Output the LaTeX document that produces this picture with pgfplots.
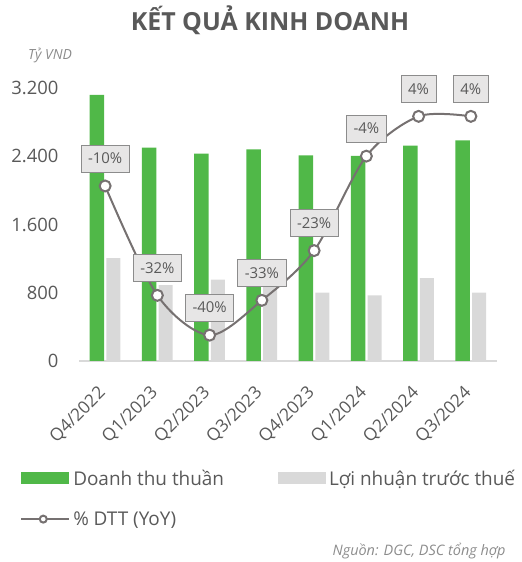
\documentclass[border=0pt]{standalone}
\usepackage{fontspec}
\setmainfont{Open Sans}
\usepackage{pgfplots}
\usepackage{pgfplotstable}
\pgfplotsset{compat=1.18}

\definecolor{dtt}{HTML}{50B848}
\definecolor{lnt}{HTML}{D9D9D9}
\definecolor{txt}{HTML}{595959}
\definecolor{yoyline}{HTML}{767171}
\definecolor{boxf}{HTML}{E7E6E6}
\definecolor{boxd}{HTML}{8C8C8C}

% quarter index, net revenue, profit before tax (bn VND), revenue growth YoY (%)
\pgfplotstableread{
q dt lnt yoy
0 3120 1205 -10
1 2500 890 -32
2 2430 955 -40
3 2480 870 -33
4 2410 800 -23
5 2405 770 -4
6 2525 970 4
7 2585 800 4
}\kqkd

\pgfplotsset{
  barleg/.style={legend image code/.code={\fill[##1] (0bp,-6bp) rectangle (48bp,6bp);}},
  yoystyle/.style={yoyline, line width=2bp, mark=*, mark size=5.5bp,
    mark options={fill=white, draw=yoyline, line width=2bp}},
  yoyleg/.style={legend image code/.code={\draw[mark repeat=2, mark phase=2, ##1, mark size=3.5bp]
    plot coordinates {(0bp,0bp) (22bp,0bp) (48bp,0bp)};}},
}

\begin{document}
\begin{tikzpicture}
\path[use as bounding box] (0,0) rectangle (522bp,562bp);
\node[font=\fontsize{25}{29}\selectfont\bfseries, text=txt] at (270bp,542bp) {KẾT QUẢ KINH DOANH};
\node[font=\fontsize{14}{16}\selectfont\itshape, text=boxd] at (50bp,507bp) {Tỷ VND};
\node[font=\fontsize{14.5}{17}\selectfont\itshape, text=boxd, anchor=east] at (509bp,11bp) {Nguồn: DGC, DSC tổng hợp};

\begin{axis}[
  at={(79bp,201bp)}, anchor=south west,
  scale only axis, width=418bp, height=273bp,
  xmin=-0.5, xmax=7.5, ymin=0, ymax=3200,
  xtick={0,...,7},
  xticklabels={Q4/2022,Q1/2023,Q2/2023,Q3/2023,Q4/2023,Q1/2024,Q2/2024,Q3/2024},
  ytick={0,800,1600,2400,3200},
  axis x line*=bottom, axis y line*=left,
  x axis line style={draw=lnt, line width=1.5bp, -},
  y axis line style={draw=none},
  tick style={draw=none},
  font=\fontsize{18.5}{21}\selectfont, tick label style={text=txt},
  /pgf/number format/assume math mode=true,
  /pgf/number format/.cd, fixed, 1000 sep={.}, /pgfplots/.cd,
  yticklabel style={xshift=-17bp},
  xticklabel style={rotate=45, anchor=east, font=\fontsize{17.5}{20}\selectfont},
  xticklabel shift=27bp,
  legend columns=2,
  legend cell align=left,
  legend style={at={(axis description cs:-0.141,-0.39)}, anchor=north west,
    draw=none, fill=none, inner sep=0pt, text=txt,
    font=\fontsize{19}{22}\selectfont,
    nodes={inner xsep=3bp},
    /tikz/every even column/.append style={column sep=51bp},
    /tikz/row sep=21bp},
]
\addplot[ybar, bar width=14.5bp, bar shift=-8.25bp, fill=dtt, draw=none, barleg]
  table[x=q, y=dt] {\kqkd};
\addlegendentry{Doanh thu thuần}
\addplot[ybar, bar width=14bp, bar shift=8.25bp, fill=lnt, draw=none, barleg]
  table[x=q, y=lnt] {\kqkd};
\addlegendentry{Lợi nhuận trước thuế}
\addlegendimage{yoystyle, yoyleg}
\addlegendentry{\% DTT (YoY)}
\end{axis}

\begin{axis}[
  at={(79bp,201bp)}, anchor=south west,
  scale only axis, width=418bp, height=273bp,
  xmin=-0.5, xmax=7.5, ymin=-45.2, ymax=9.7,
  hide axis, clip=false,
  /pgf/number format/assume math mode=true,
  nodes near coords={\pgfmathprintnumber[fixed, precision=0]{\pgfplotspointmeta}\%},
  nodes near coords style={anchor=center, yshift=27.5bp, fill=boxf, draw=boxd,
    line width=0.9bp, text=txt, font=\fontsize{15}{17}\selectfont,
    inner xsep=7bp, minimum height=27bp},
]
\addplot[yoystyle, smooth, tension=0.5] table[x=q, y=yoy] {\kqkd};
\end{axis}
\end{tikzpicture}
\end{document}
